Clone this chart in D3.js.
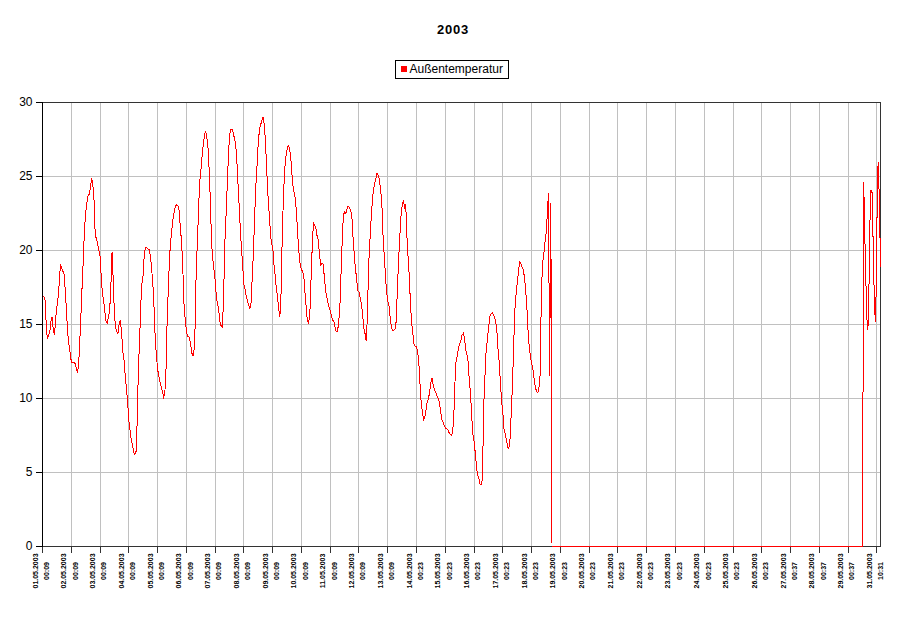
<!DOCTYPE html>
<html><head><meta charset="utf-8">
<script src="https://cdn.jsdelivr.net/npm/d3@7"></script>
<style>body{margin:0;background:#fff}svg{display:block}</style>
</head><body><svg id="c" width="909" height="634"></svg>
<script>
const chartTitle = "2003";
const seriesName = "Außentemperatur";
const yTicks = [0, 5, 10, 15, 20, 25, 30];
const tickDates = ["01.05.2003","02.05.2003","03.05.2003","04.05.2003","05.05.2003","06.05.2003","07.05.2003","08.05.2003","09.05.2003","10.05.2003","11.05.2003","12.05.2003","13.05.2003","14.05.2003","15.05.2003","16.05.2003","17.05.2003","18.05.2003","19.05.2003","20.05.2003","21.05.2003","22.05.2003","23.05.2003","24.05.2003","25.05.2003","26.05.2003","27.05.2003","28.05.2003","29.05.2003","31.05.2003"];
const tickTimes = ["00:09","00:09","00:09","00:09","00:09","00:09","00:09","00:09","00:09","00:09","00:09","00:09","00:09","00:23","00:23","00:23","00:23","00:23","00:23","00:23","00:23","00:23","00:23","00:23","00:23","00:23","00:37","00:37","00:37","10:31"];
const readingsPerLabel = 24;

// readings 01.05 - 19.05 (one row per label interval)
const tempsMay01to19 = [
16.9,16.9,16.8,15.2,14.0,14.3,14.4,15.2,15.5,14.6,14.3,15.4,16.2,16.8,17.8,19.1,18.8,18.6,18.4,17.3,15.9,14.4,13.7,13.1,
12.5,12.4,12.4,12.4,12.1,11.8,12.1,13.7,15.5,17.5,19.3,21.4,22.5,23.2,23.7,23.8,24.3,24.9,24.4,23.4,21.0,20.8,20.4,20.0,
19.6,18.2,17.1,16.6,15.9,15.2,15.1,15.5,15.9,17.5,19.9,18.0,15.7,14.8,14.5,14.4,15.1,15.3,14.4,13.2,12.6,11.5,10.7,9.8,
8.5,7.9,7.2,6.85,6.4,6.2,6.4,8.5,12.1,13.9,16.4,17.8,18.4,19.9,20.2,20.2,20.1,20.1,19.6,18.8,17.8,16.2,14.1,12.9,
12.0,11.5,11.1,10.8,10.5,10.1,10.3,11.9,15.4,17.5,19.6,20.7,21.5,22.2,22.7,23.0,23.1,23.0,22.7,21.5,20.6,18.9,16.4,15.4,
14.6,14.2,14.2,13.9,13.4,12.9,12.9,13.8,17.9,20.2,22.3,24.5,25.3,26.3,27.1,27.7,28.1,27.7,27.0,25.5,23.4,20.5,19.5,18.7,
18.0,16.9,16.4,16.0,15.2,14.9,14.8,16.6,20.3,22.2,24.2,26.2,27.8,28.2,28.2,28.0,27.6,27.3,26.3,24.6,23.1,21.5,20.1,18.9,
17.7,17.4,16.9,16.6,16.3,16.1,16.5,18.3,20.0,22.4,24.4,25.8,27.3,28.2,28.5,28.8,29.0,28.5,27.3,25.5,23.8,22.6,21.4,20.4,
20.3,19.1,18.4,17.5,16.9,16.1,15.5,17.1,21.1,23.7,25.5,26.3,26.8,27.1,26.9,26.4,25.2,24.3,23.9,23.4,22.4,20.9,19.8,19.0,
18.7,18.6,18.2,17.1,16.1,15.2,15.1,15.7,18.1,20.3,21.9,21.7,21.5,21.0,20.7,19.8,19.0,19.1,19.1,18.3,17.4,16.9,16.5,16.2,
15.9,15.6,15.3,15.2,14.8,14.5,14.5,15.1,16.1,18.4,20.7,22.4,22.6,22.5,22.8,23.0,22.9,22.7,22.4,20.9,19.8,18.8,18.1,17.3,
17.2,16.8,16.4,15.7,14.8,14.4,13.9,15.5,18.9,20.5,22.0,23.2,24.1,24.5,24.8,25.2,25.1,24.8,24.1,23.3,21.1,19.7,18.4,17.2,
16.6,16.3,15.5,14.8,14.6,14.6,14.7,15.2,17.3,19.3,20.9,22.3,23.0,23.4,22.9,23.1,20.9,19.5,18.2,16.2,15.1,14.3,13.6,13.5,
13.5,13.1,12.3,10.8,9.6,9.0,8.6,8.8,9.3,9.8,10.0,10.5,11.1,11.4,10.8,10.6,10.4,10.2,10.0,9.8,9.2,8.6,8.4,8.2,
8.0,8.0,7.9,7.7,7.6,7.5,7.7,8.6,11.0,12.6,12.9,13.4,13.7,13.9,14.3,14.4,14.1,13.3,13.0,12.5,11.2,10.4,8.8,7.6,
7.1,6.3,5.4,4.8,4.6,4.2,4.2,4.6,9.4,11.4,13.2,13.9,14.7,15.5,15.7,15.8,15.7,15.5,15.2,14.6,13.3,12.4,11.0,9.8,
9.0,7.9,7.6,7.2,6.7,6.6,7.3,9.0,10.9,13.5,16.0,17.0,17.8,18.5,19.3,19.1,18.9,18.7,18.2,17.4,16.2,14.6,13.5,12.8,
12.4,12.0,11.4,10.8,10.5,10.4,10.6,11.5,16.4,19.1,19.6,20.5,21.1,22.3,23.9,11.5,23.2
];
// readings shown as 0 from 19.05 until 31.05
const tempsZeroRun = [
0,0,0,0,0,0,0,0,0,0,0,0,0,0,0,0,0,0,0,0,
0,0,0,0,0,0,0,0,0,0,0,0,0,0,0,0,0,0,0,0,
0,0,0,0,0,0,0,0,0,0,0,0,0,0,0,0,0,0,0,0,
0,0,0,0,0,0,0,0,0,0,0,0,0,0,0,0,0,0,0,0,
0,0,0,0,0,0,0,0,0,0,0,0,0,0,0,0,0,0,0,0,
0,0,0,0,0,0,0,0,0,0,0,0,0,0,0,0,0,0,0,0,
0,0,0,0,0,0,0,0,0,0,0,0,0,0,0,0,0,0,0,0,
0,0,0,0,0,0,0,0,0,0,0,0,0,0,0,0,0,0,0,0,
0,0,0,0,0,0,0,0,0,0,0,0,0,0,0,0,0,0,0,0,
0,0,0,0,0,0,0,0,0,0,0,0,0,0,0,0,0,0,0,0,
0,0,0,0,0,0,0,0,0,0,0,0,0,0,0,0,0,0,0,0,
0,0,0,0,0,0,0,0,0,0,0,0,0,0,0,0,0,0,0,0,
0,0,0,0,0,0,0,0,0,0,0,0,0,0,0,0,0,0,0,0
];
// readings 31.05
const tempsMay31 = [24.6,20.7,17.3,14.6,15.1,21.4,24.1,23.9,20.0,16.0,15.2,21.8,26.0,23.6,18.9];

const temps = tempsMay01to19.concat(tempsZeroRun, tempsMay31);

const W = 909, H = 634;
const FONT = "'Liberation Sans', Arial, sans-serif";
const plot = {left: 42.5, right: 880.5, top: 102.5, bottom: 546.5};

const svg = d3.select("#c");
svg.append("rect").attr("width", W).attr("height", H).attr("fill", "#fff");

const x = d3.scaleLinear().domain([0, temps.length - 1]).range([plot.left, plot.right]);
const y = d3.scaleLinear().domain([0, 30]).range([plot.bottom, plot.top]);
const tickIdx = tickDates.map((d, i) => i * readingsPerLabel);

// grid
const grid = svg.append("g").attr("stroke", "#c0c0c0").attr("stroke-width", 1).attr("shape-rendering", "crispEdges");
grid.selectAll("line.h").data(yTicks.filter(v => v > 0 && v < 30)).join("line").attr("class", "h")
  .attr("x1", plot.left).attr("x2", plot.right).attr("y1", d => y(d)).attr("y2", d => y(d));
grid.selectAll("line.v").data(tickIdx.slice(1)).join("line").attr("class", "v")
  .attr("x1", d => x(d)).attr("x2", d => x(d)).attr("y1", plot.top).attr("y2", plot.bottom);

// frame (top + right)
svg.append("path").attr("d", `M${plot.left},${plot.top}H${plot.right}V${plot.bottom}`)
  .attr("fill", "none").attr("stroke", "#333").attr("shape-rendering", "crispEdges");

// x axis
const xAxis = svg.append("g").attr("transform", `translate(0,${plot.bottom})`)
  .call(d3.axisBottom(x).tickValues(tickIdx).tickSize(6).tickSizeOuter(0).tickFormat("").offset(0));
xAxis.select(".domain").attr("stroke", "#333").attr("shape-rendering", "crispEdges");
xAxis.selectAll(".tick line").attr("stroke", "#333").attr("shape-rendering", "crispEdges");

const xl = svg.append("g").attr("font-family", FONT).attr("font-size", 7).attr("font-weight", "bold").attr("fill", "#000");
const lab = xl.selectAll("text").data(tickIdx).join("text")
  .attr("transform", d => `translate(${x(d)},571) rotate(-90)`)
  .attr("text-anchor", "middle");
lab.append("tspan").attr("x", 0).attr("y", -5).text((d, i) => tickDates[i]);
lab.append("tspan").attr("x", 0).attr("y", 6.3).text((d, i) => tickTimes[i]);

// y axis
const yAxis = svg.append("g").attr("transform", `translate(${plot.left},0)`)
  .call(d3.axisLeft(y).tickValues(yTicks).tickSize(7).tickSizeOuter(0).tickPadding(3).offset(0));
yAxis.select(".domain").attr("stroke", "#000").attr("shape-rendering", "crispEdges");
yAxis.selectAll(".tick line").attr("stroke", "#000").attr("shape-rendering", "crispEdges");
yAxis.selectAll(".tick text").attr("font-family", FONT).attr("font-size", 12).attr("fill", "#000");

// series line
const line = d3.line().x((d, i) => x(i)).y(d => y(d));
svg.append("path").datum(temps).attr("d", line)
  .attr("fill", "none").attr("stroke", "#ff0000").attr("stroke-width", 1)
  .attr("shape-rendering", "crispEdges");

// title
svg.append("text").attr("x", 453).attr("y", 34).attr("text-anchor", "middle")
  .attr("font-family", FONT).attr("font-weight", "bold").attr("font-size", 13)
  .attr("letter-spacing", 0.8).text(chartTitle);

// legend
const lg = svg.append("g");
lg.append("rect").attr("x", 395.5).attr("y", 60.5).attr("width", 113).attr("height", 18)
  .attr("fill", "#fff").attr("stroke", "#000").attr("shape-rendering", "crispEdges");
lg.append("rect").attr("x", 401).attr("y", 66).attr("width", 6).attr("height", 6).attr("fill", "#ff0000");
lg.append("text").attr("x", 409.5).attr("y", 72.5).attr("font-family", FONT).attr("font-size", 12)
  .attr("fill", "#000").text(seriesName);
</script></body></html>
